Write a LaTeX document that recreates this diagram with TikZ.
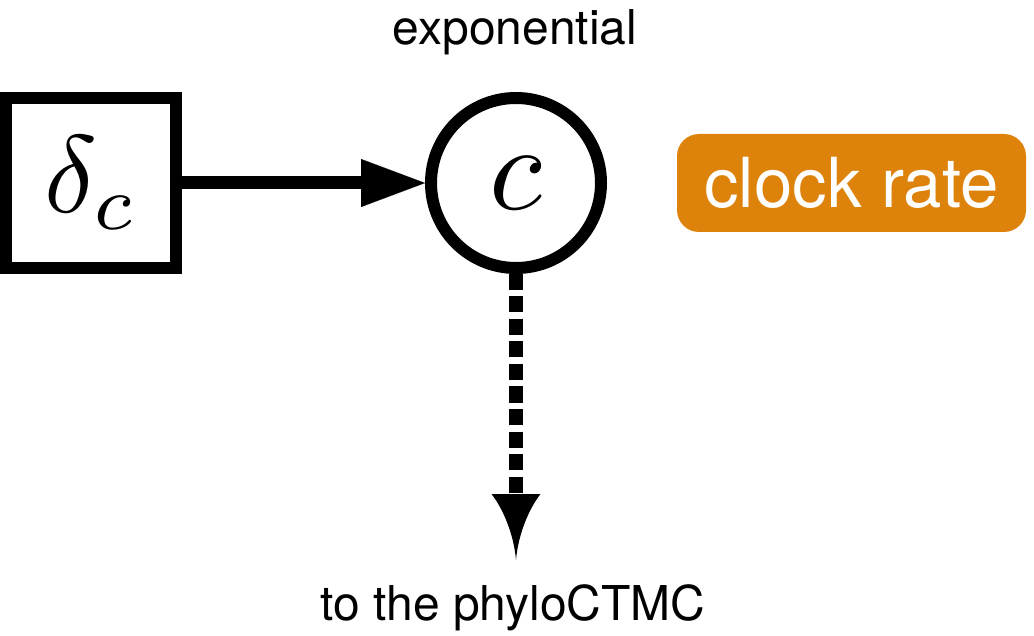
\documentclass[tikz,border=0pt]{standalone}
\usepackage{graphicx}
\usepackage{fontspec}
\setmainfont{TeX Gyre Heros}
\usetikzlibrary{arrows.meta}
\definecolor{clockorange}{RGB}{221,131,12}
\tikzset{
  constnode/.style={draw, line width=12pt, minimum size=170pt, inner sep=0pt},
  stochnode/.style={draw, circle, line width=12pt, minimum size=170pt, inner sep=0pt},
  tagbox/.style={fill=clockorange, rounded corners=22pt, minimum width=349pt, minimum height=98pt, inner sep=0pt, text=white, font=\fontsize{69}{80}\selectfont},
  labeltext/.style={anchor=base, inner sep=0pt, font=\fontsize{48}{58}\selectfont},
  solidarrow/.style={line width=13pt, -{Triangle[length=64pt, width=48pt, line width=0.1pt]}},
  dashedline/.style={line width=14pt, dash pattern=on 16pt off 6.5pt}
}
\begin{document}
\begin{tikzpicture}[x=1pt, y=-1pt]
\useasboundingbox (0,0) rectangle (1034,636);
\node[constnode] (delta) at (91,183) {\scalebox{11}{$\delta_c$}};
\node[stochnode] (c) at (516,183) {\scalebox{12.2}{$c$}};
\node[labeltext] (expo) at (515,45) {exponential};
\node[labeltext] (ctmc) at (513,620) {to the phyloCTMC};
\node[tagbox] (clock) at (851.5,183) {clock rate};
\draw[solidarrow] (delta) -- (c);
\coordinate (headbase) at (516,494);
\coordinate (tip) at (516,560);
\draw[dashedline] (c.south) -- ([yshift=1pt]headbase);
\fill ([xshift=-24.5pt]headbase) -- ([xshift=24.5pt]headbase)
  .. controls ([xshift=12pt,yshift=-16pt]headbase) and ([xshift=2pt,yshift=24pt]tip) .. (tip)
  .. controls ([xshift=-2pt,yshift=24pt]tip) and ([xshift=-12pt,yshift=-16pt]headbase) .. cycle;
\end{tikzpicture}
\end{document}
